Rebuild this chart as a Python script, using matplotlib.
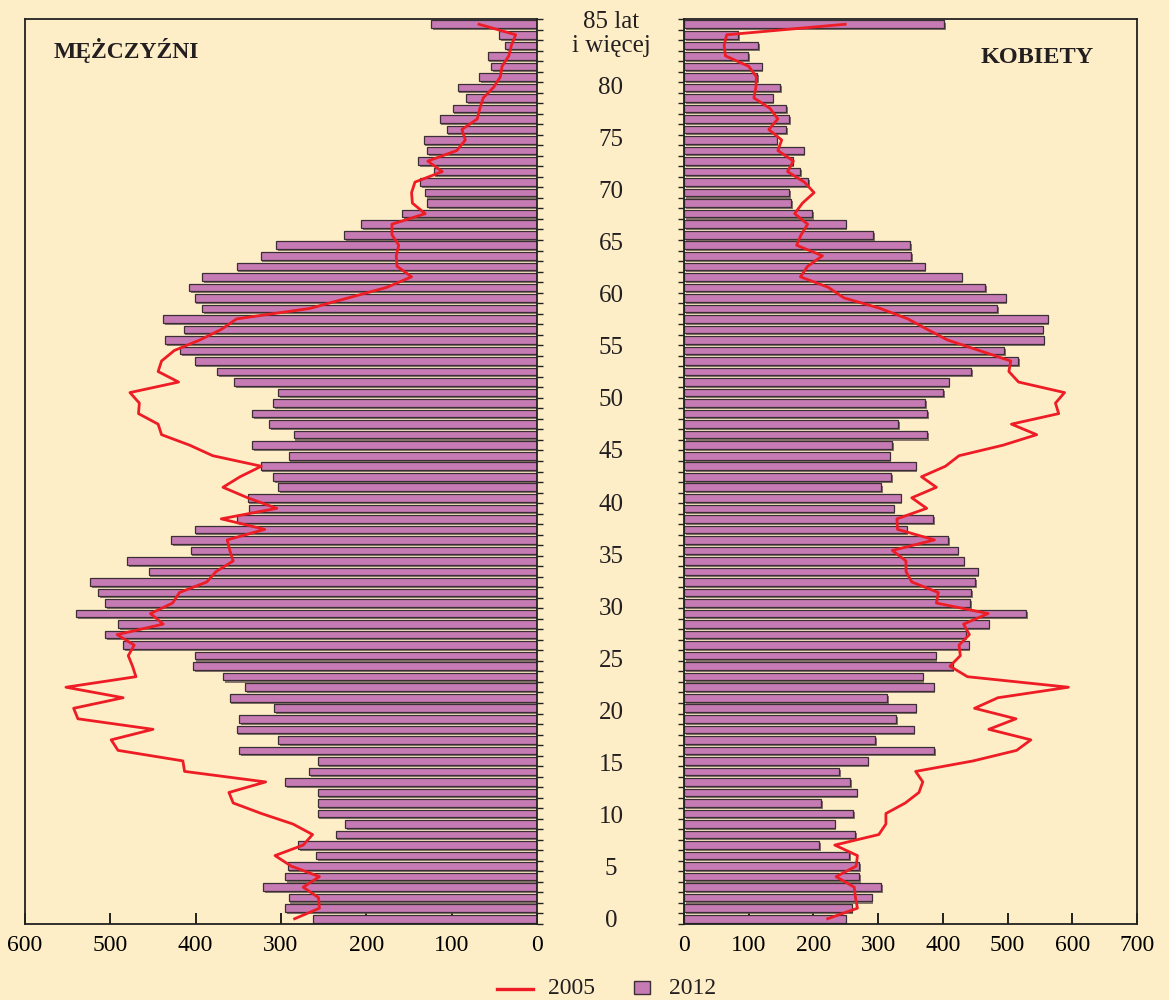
import matplotlib
matplotlib.use("Agg")
import matplotlib.pyplot as plt
import matplotlib.patheffects as pe
from matplotlib.lines import Line2D
from matplotlib.patches import Rectangle
import numpy as np

ages = list(range(0, 86))

men_2012 = [263, 295, 291, 321, 295, 292, 259, 280, 236, 225,
            257, 257, 257, 295, 267, 257, 349, 303, 352, 349,
            308, 360, 342, 368, 403, 401, 485, 506, 491, 540,
            506, 514, 524, 455, 480, 406, 429, 401, 351, 337,
            339, 303, 309, 324, 291, 334, 285, 314, 334, 309,
            303, 355, 375, 401, 418, 436, 414, 438, 392, 401,
            408, 392, 352, 324, 306, 226, 206, 158, 129, 131,
            137, 121, 139, 129, 133, 106, 114, 99, 83, 93,
            68, 54, 58, 37, 44, 124]

men_2005 = [284, 255, 256, 274, 255, 288, 307, 274, 263, 286,
            323, 356, 361, 318, 413, 415, 491, 499, 450, 538,
            543, 485, 552, 470, 474, 479, 472, 492, 438, 453,
            427, 419, 387, 376, 356, 360, 363, 319, 370, 305,
            339, 368, 348, 323, 380, 407, 440, 444, 467, 466,
            477, 420, 444, 440, 425, 395, 370, 352, 266, 221,
            176, 147, 164, 165, 162, 170, 170, 131, 146, 147,
            143, 111, 128, 94, 84, 88, 70, 67, 63, 51,
            43, 41, 33, 30, 25, 68]

women_2012 = [250, 259, 290, 305, 271, 271, 255, 209, 265, 233,
              261, 212, 267, 257, 240, 284, 387, 295, 355, 328,
              358, 314, 386, 369, 415, 389, 440, 435, 471, 529,
              442, 444, 450, 454, 432, 423, 408, 344, 385, 324,
              335, 305, 320, 358, 318, 322, 376, 331, 376, 373,
              400, 409, 444, 516, 495, 556, 554, 562, 484, 497,
              465, 429, 372, 351, 349, 292, 250, 198, 166, 162,
              192, 179, 168, 185, 143, 158, 162, 158, 137, 149,
              113, 120, 99, 115, 84, 402]

women_2005 = [222, 268, 265, 263, 235, 266, 268, 233, 301, 312,
              312, 342, 363, 369, 358, 447, 514, 536, 471, 513,
              449, 485, 594, 438, 411, 427, 425, 441, 432, 470,
              390, 393, 352, 343, 343, 322, 387, 330, 329, 375,
              352, 390, 367, 404, 425, 493, 545, 506, 579, 574,
              588, 517, 502, 505, 456, 407, 376, 346, 303, 247,
              223, 180, 191, 214, 174, 181, 191, 171, 183, 201,
              186, 160, 169, 145, 151, 131, 145, 133, 108, 111,
              112, 100, 64, 62, 66, 249]

age_ticks = [0, 5, 10, 15, 20, 25, 30, 35, 40, 45, 50, 55, 60, 65, 70, 75, 80]
top_label = "85 lat\ni więcej"
legend_labels = ["2005", "2012"]

BG = "#FEEEC8"
BAR = "#C77BB4"
EDGE = "#3a2f35"
RED = "#EE1C25"
TXT = "#231f20"
SERIF = ["Liberation Serif", "DejaVu Serif"]

plt.rcParams["font.family"] = SERIF

W, H = 1169, 1000
fig = plt.figure(figsize=(W / 100, H / 100), dpi=100, facecolor=BG)
axL = fig.add_axes([25 / W, 1 - 924 / H, (537 - 25) / W, (924 - 19) / H])
axR = fig.add_axes([684 / W, 1 - 924 / H, (1137 - 684) / W, (924 - 19) / H])

shadow = [pe.SimplePatchShadow(offset=(1.2, -1.5), shadow_rgbFace="#6b5a55", alpha=0.8), pe.Normal()]

for ax in (axL, axR):
    ax.set_facecolor(BG)
    ax.set_ylim(-0.45, 85.5)
    for s in ax.spines.values():
        s.set_color("#222222")
        s.set_linewidth(1.3)

# Men
bL = axL.barh(ages, men_2012, height=0.72, color=BAR, edgecolor=EDGE, linewidth=0.9, zorder=2)
for p in bL:
    p.set_path_effects(shadow)
axL.plot(men_2005, ages, color=RED, lw=2.0, zorder=3)
axL.set_xlim(600, 0)
axL.set_xticks([600, 500, 400, 300, 200, 100, 0])
axL.yaxis.tick_right()
axL.set_yticks(np.arange(-0.5, 85.6, 1.0))
axL.set_yticklabels([])
axL.tick_params(axis="y", direction="out", length=4, width=1, colors="#222222")
axL.tick_params(axis="x", direction="in", length=8, width=1.2, labelsize=17, pad=8)
axL.text(0.055, 0.965, "MĘŻCZYŹNI", transform=axL.transAxes, fontsize=17,
         fontweight="bold", color=TXT, va="center", ha="left")

# Women
bR = axR.barh(ages, women_2012, height=0.72, color=BAR, edgecolor=EDGE, linewidth=0.9, zorder=2)
for p in bR:
    p.set_path_effects(shadow)
axR.plot(women_2005, ages, color=RED, lw=2.0, zorder=3)
axR.set_xlim(0, 700)
axR.set_xticks([0, 100, 200, 300, 400, 500, 600, 700])
axR.set_yticks(np.arange(-0.5, 85.6, 1.0))
axR.set_yticklabels([])
axR.tick_params(axis="y", direction="out", length=4, width=1, colors="#222222")
axR.tick_params(axis="x", direction="in", length=8, width=1.2, labelsize=17, pad=8)
axR.text(0.905, 0.958, "KOBIETY", transform=axR.transAxes, fontsize=17.5,
         fontweight="bold", color=TXT, va="center", ha="right")

# Age labels in the middle (the reference's labels drift slightly from the bars)
xmid = 611 / W
for a in age_ticks:
    ypix = 920.7 - a * 10.405
    fig.text(xmid, 1 - ypix / H, str(a), ha="center", va="center", fontsize=18, color=TXT)
fig.text(xmid, 1 - 34 / H, top_label, ha="center", va="center", fontsize=18,
         color=TXT, linespacing=1.15)

# Legend (drawn by hand to match the reference layout)
fig.add_artist(Line2D([497 / W, 533 / W], [1 - 989 / H, 1 - 989 / H],
                      transform=fig.transFigure, color=RED, lw=2.4))
fig.text(548 / W, 1 - 988 / H, legend_labels[0], ha="left", va="center", fontsize=17, color=TXT)
fig.add_artist(Rectangle((634 / W, 1 - 994 / H), 16 / W, 13 / H, transform=fig.transFigure,
                         facecolor=BAR, edgecolor=EDGE, linewidth=1.0))
fig.text(669 / W, 1 - 988 / H, legend_labels[1], ha="left", va="center", fontsize=17, color=TXT)

fig.savefig("out.png", dpi=100, facecolor=BG)
